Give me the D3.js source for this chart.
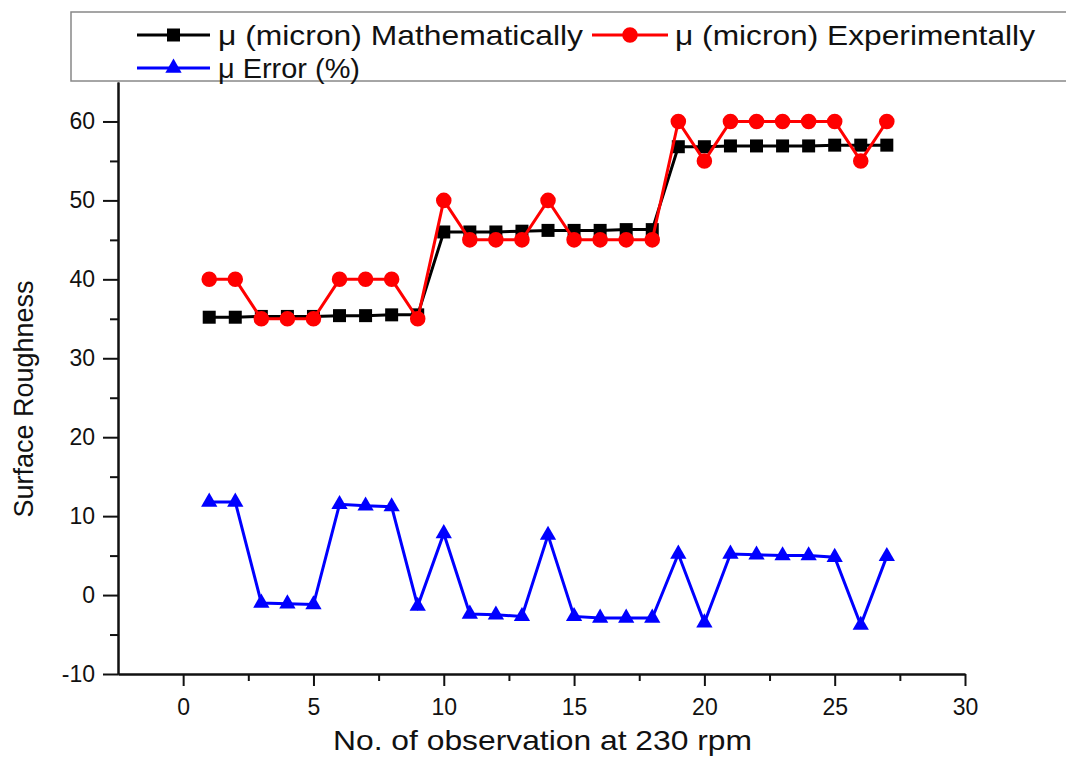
<!DOCTYPE html>
<html lang="en">
  <head>
    <meta charset="UTF-8" />
    <title>Surface Roughness at 230 rpm</title>
    <script src="https://d3js.org/d3.v7.min.js"></script>
    <style>
      body {
        margin: 0;
        background: #fff;
      }
      svg text {
        font-family: 'Liberation Sans', Arial, Helvetica, sans-serif;
        fill: #111;
      }
      .axis path,
      .axis line {
        stroke: #111;
        stroke-width: 2px;
      }
    </style>
  </head>
  <body>
    <div id="chart"></div>
    <script>
      // observation numbers
      const observations = d3.range(1, 28);

      // μ (micron) Mathematically
      const mathValues = [
        35.2, 35.2, 35.3, 35.3, 35.3, 35.4, 35.4, 35.5, 35.5,
        46.0, 46.0, 46.0, 46.1, 46.2, 46.2, 46.2, 46.3, 46.3,
        56.8, 56.8, 56.9, 56.9, 56.9, 56.9, 57.0, 57.0, 57.0
      ];

      // μ (micron) Experimentally
      const expValues = [
        40, 40, 35, 35, 35, 40, 40, 40, 35,
        50, 45, 45, 45, 50, 45, 45, 45, 45,
        60, 55, 60, 60, 60, 60, 60, 55, 60
      ];

      // μ Error (%)
      const errorValues = [
        11.8, 11.8, -1.0, -1.1, -1.2, 11.5, 11.3, 11.2, -1.4,
        7.8, -2.4, -2.5, -2.7, 7.6, -2.7, -2.9, -2.9, -2.9,
        5.2, -3.5, 5.2, 5.1, 5.0, 5.0, 4.8, -3.8, 4.9
      ];

      const xTicks = [0, 5, 10, 15, 20, 25, 30];
      const yTicks = [-10, 0, 10, 20, 30, 40, 50, 60];

      const series = [
        { name: 'μ Error (%)', values: errorValues, color: '#0000ff', symbol: d3.symbolTriangle, size: 115 },
        { name: 'μ (micron) Mathematically', values: mathValues, color: '#000000', symbol: d3.symbolSquare, size: 169 },
        { name: 'μ (micron) Experimentally', values: expValues, color: '#ff0000', symbol: d3.symbolCircle, size: 190 }
      ];

      const width = 1066;
      const height = 758;

      const svg = d3
        .select('#chart')
        .append('svg')
        .attr('width', width)
        .attr('height', height);

      const x = d3.scaleLinear().domain([-2.5, 30]).range([118, 965]);
      const y = d3.scaleLinear().domain([-10, 65]).range([674, 82]);

      // minor ticks
      svg
        .append('g')
        .attr('class', 'axis')
        .attr('transform', `translate(0,${y(-10)})`)
        .call(
          d3.axisBottom(x)
            .tickValues(d3.range(2.5, 30, 5))
            .tickSize(7)
            .tickSizeOuter(0)
            .tickFormat('')
        );
      svg
        .append('g')
        .attr('class', 'axis')
        .attr('transform', `translate(${x(-2.5)},0)`)
        .call(
          d3.axisLeft(y)
            .tickValues(d3.range(-5, 60, 10))
            .tickSize(8)
            .tickSizeOuter(0)
            .tickFormat('')
        );

      // major ticks (plain hyphen for negatives, as in the original)
      const xAxis = svg
        .append('g')
        .attr('class', 'axis')
        .attr('transform', `translate(0,${y(-10)})`)
        .call(
          d3.axisBottom(x)
            .tickValues(xTicks)
            .tickSize(12)
            .tickSizeOuter(0)
            .tickPadding(13)
            .tickFormat((d) => String(d))
        );
      xAxis.selectAll('text').style('font-size', '23px');

      const yAxis = svg
        .append('g')
        .attr('class', 'axis')
        .attr('transform', `translate(${x(-2.5)},0)`)
        .call(
          d3.axisLeft(y)
            .tickValues(yTicks)
            .tickSize(15)
            .tickSizeOuter(0)
            .tickPadding(8)
            .tickFormat((d) => String(d))
        );
      yAxis.selectAll('text').style('font-size', '23px');

      // axis titles
      svg
        .append('text')
        .attr('x', 333)
        .attr('y', 750)
        .attr('textLength', 419)
        .attr('lengthAdjust', 'spacingAndGlyphs')
        .style('font-size', '28px')
        .text('No. of observation at 230 rpm');

      svg
        .append('text')
        .attr('transform', 'translate(33,399) rotate(-90)')
        .attr('text-anchor', 'middle')
        .style('font-size', '27px')
        .text('Surface Roughness');

      // lines and markers
      const line = d3
        .line()
        .x((d, i) => x(observations[i]))
        .y((d) => y(d));

      series.forEach((s) => {
        svg
          .append('path')
          .datum(s.values)
          .attr('d', line)
          .attr('fill', 'none')
          .attr('stroke', s.color)
          .attr('stroke-width', 3);

        svg
          .append('g')
          .selectAll('path')
          .data(s.values)
          .join('path')
          .attr('transform', (d, i) => `translate(${x(observations[i])},${y(d)})`)
          .attr('d', d3.symbol().type(s.symbol).size(s.size))
          .attr('fill', s.color);
      });

      // legend
      const legend = svg.append('g');
      legend
        .append('rect')
        .attr('x', 71)
        .attr('y', 12)
        .attr('width', 1020)
        .attr('height', 69)
        .attr('fill', '#fff')
        .attr('stroke', '#888')
        .attr('stroke-width', 1.5);

      const legendItems = [
        { s: series[1], x0: 137, x1: 210, tx: 218, cy: 35, tw: 365 },
        { s: series[2], x0: 592, x1: 668, tx: 675, cy: 35, tw: 360 },
        { s: series[0], x0: 137, x1: 210, tx: 218, cy: 68, tw: 142 }
      ];

      legendItems.forEach((it) => {
        legend
          .append('line')
          .attr('x1', it.x0)
          .attr('x2', it.x1)
          .attr('y1', it.cy)
          .attr('y2', it.cy)
          .attr('stroke', it.s.color)
          .attr('stroke-width', 3);
        legend
          .append('path')
          .attr('transform', `translate(${(it.x0 + it.x1) / 2},${it.cy})`)
          .attr('d', d3.symbol().type(it.s.symbol).size(it.s.size))
          .attr('fill', it.s.color);
        legend
          .append('text')
          .attr('x', it.tx)
          .attr('y', it.cy + 10)
          .attr('textLength', it.tw)
          .attr('lengthAdjust', 'spacingAndGlyphs')
          .style('font-size', '28px')
          .text(it.s.name);
      });
    </script>
  </body>
</html>
